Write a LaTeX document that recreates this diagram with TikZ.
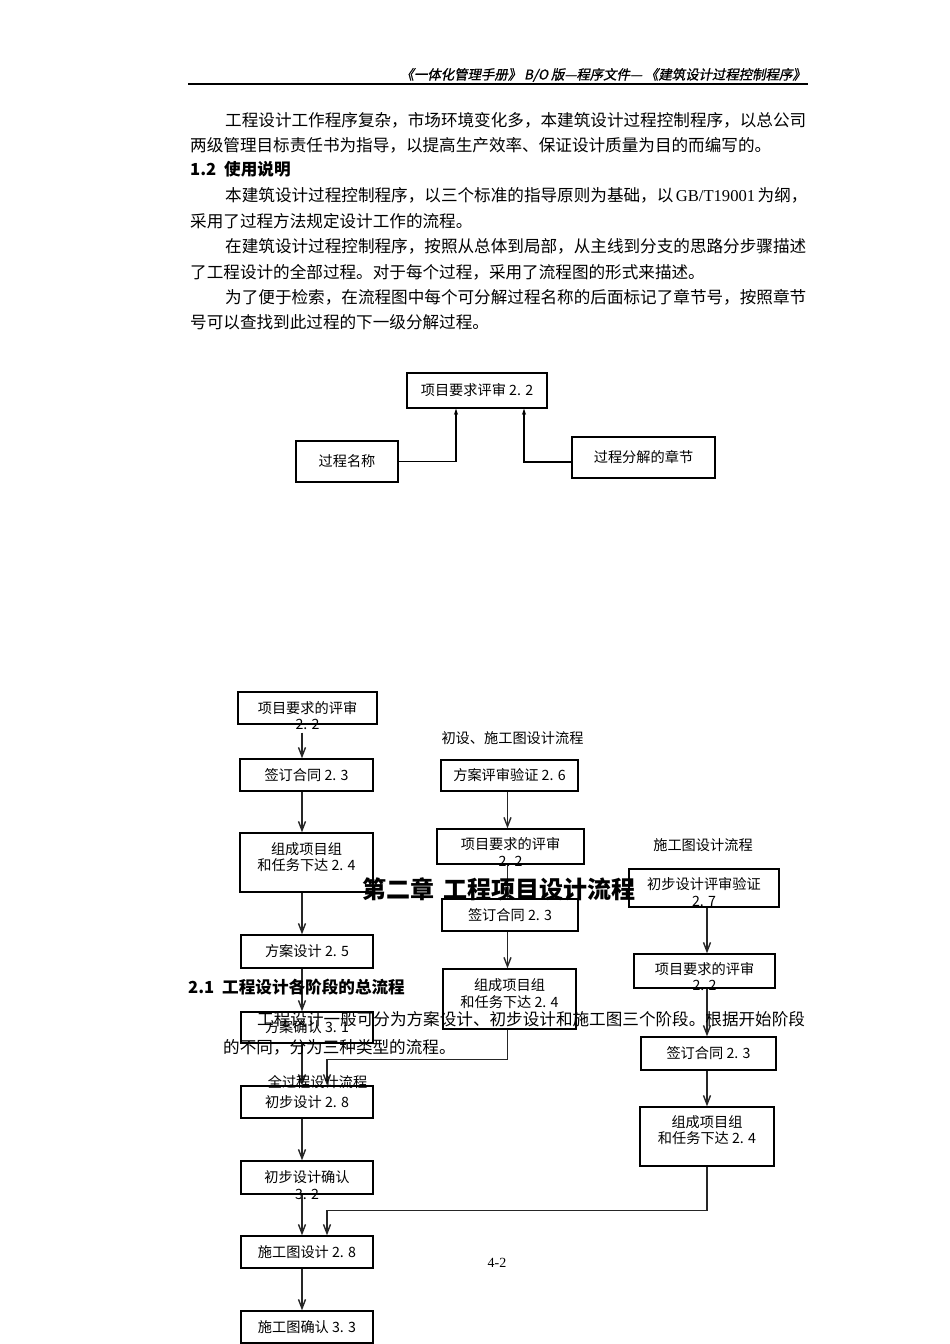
\documentclass[tikz,border=0pt]{standalone}
\usepackage{fontspec}
\setmainfont{Liberation Serif}
\newfontfamily\cjk{Noto Sans CJK SC}
\newfontfamily\hdrfont[FakeSlant=0.2,FakeBold=1]{Noto Sans CJK SC}
\usetikzlibrary{arrows.meta}
\usetikzlibrary{calc}

\begin{document}
\begin{tikzpicture}[x=1pt, y=-1pt,
        body_style/.style={anchor=west, inner sep=0, font=\cjk\fontsize{16.6}{20}\selectfont},
        head_style/.style={anchor=west, inner sep=0, font=\cjk\bfseries\fontsize{16.6}{20}\selectfont},
        box_style/.style={draw=black, line width=1.4pt, inner sep=0, font=\cjk\fontsize{14.2}{16.5}\selectfont},
        text_style/.style={inner sep=0, align=center, font=\cjk\fontsize{14.2}{16.5}\selectfont},
        label_style/.style={inner sep=0, font=\cjk\fontsize{14.2}{16.5}\selectfont},
        edge_style/.style={draw=black!85, line width=1.4pt, -{Straight Barb[length=9pt,width=7pt]}},
        hint_edge_style/.style={draw=black, line width=1.2pt, -{Stealth[length=6pt,width=4pt,inset=1.5pt]}}]

        \fill[white] (0,0) rectangle (950,1344);
        \useasboundingbox (0,0) rectangle (950,1344);

        % page header
        \node [anchor=east, inner sep=0, font=\hdrfont\fontsize{13.4}{15}\selectfont] (hdr) at (806,75) {《一体化管理手册》 B/O 版—程序文件— 《建筑设计过程控制程序》};
        \draw [line width=1.5pt] (188,84) -- (808,84);

        % text above the key
        \node [body_style] (t1) at (225,120) {工程设计工作程序复杂，市场环境变化多，本建筑设计过程控制程序，以总公司};
        \node [body_style] (t2) at (190,145) {两级管理目标责任书为指导，以提高生产效率、保证设计质量为目的而编写的。};
        \node [head_style] (h1) at (190,169) {1.2\hspace{8pt}使用说明};
        \node [body_style] (t3) at (225,195) {\makebox[581pt][s]{本建筑设计过程控制程序，以三个标准的指导原则为基础，以 {\rmfamily GB/T19001} 为纲，}};
        \node [body_style] (t4) at (190,221) {采用了过程方法规定设计工作的流程。};
        \node [body_style] (t5) at (225,246) {在建筑设计过程控制程序，按照从总体到局部，从主线到分支的思路分步骤描述};
        \node [body_style] (t6) at (190,272) {了工程设计的全部过程。对于每个过程，采用了流程图的形式来描述。};
        \node [body_style] (t7) at (225,297) {为了便于检索，在流程图中每个可分解过程名称的后面标记了章节号，按照章节};
        \node [body_style] (t8) at (190,322) {号可以查找到此过程的下一级分解过程。};

        % key
        \node [box_style, minimum width=140pt, minimum height=35pt] (req) at (477,390.5) {项目要求评审 2. 2};
        \node [box_style, minimum width=102pt, minimum height=41pt] (pname) at (347,461.5) {过程名称};
        \node [box_style, minimum width=143pt, minimum height=41pt] (pchap) at (643.5,457.5) {过程分解的章节};
        \draw [hint_edge_style] (pname.east) -| ([xshift=-21pt]req.south);
        \draw [hint_edge_style] ([yshift=-4.5pt]pchap.west) -| ([xshift=47pt]req.south);

        % column lines
        \coordinate (lx) at (302,0);
        \coordinate (mx) at (507.5,0);
        \coordinate (rx) at (707,0);

        % full process
        \node [box_style, minimum width=139pt, minimum height=32pt] (a1) at (307.5,708) {};
        \node [text_style] (a1t) at (307.5,715.5) {项目要求的评审\\2. 2};
        \node [box_style, minimum width=133pt, minimum height=32pt] (a2) at (306.5,775) {签订合同 2. 3};
        \node [box_style, minimum width=133pt, minimum height=59pt] (a3) at (306.5,862.5) {};
        \node [text_style] (a3t) at (306.5,857) {组成项目组\\和任务下达 2. 4};
        \node [box_style, minimum width=132pt, minimum height=33pt] (a4) at (307,951.5) {方案设计 2. 5};
        \node [box_style, minimum width=132pt, minimum height=31pt] (a5) at (307,1027.5) {方案确认 3. 1};
        \node [box_style, minimum width=132pt, minimum height=32pt] (a6) at (307,1102) {初步设计 2. 8};
        \node [box_style, minimum width=132pt, minimum height=33pt] (a7) at (307,1177.5) {};
        \node [text_style] (a7t) at (307,1185) {初步设计确认\\3. 2};
        \node [box_style, minimum width=132pt, minimum height=32pt] (a8) at (307,1252) {施工图设计 2. 8};
        \node [box_style, minimum width=132pt, minimum height=32pt] (a9) at (307,1327) {施工图确认 3. 3};
        \draw [edge_style] ($(a1.south -| lx)+(0,8)$) -- (a2.north -| lx);
        \draw [edge_style] (a2.south -| lx) -- (a3.north -| lx);
        \draw [edge_style] (a3.south -| lx) -- (a4.north -| lx);
        \draw [edge_style] (a4.south -| lx) -- (a5.north -| lx);
        \draw [edge_style] (a5.south -| lx) -- (a6.north -| lx);
        \draw [edge_style] (a6.south -| lx) -- (a7.north -| lx);
        \draw [edge_style] (a7.south -| lx) -- (a8.north -| lx);
        \draw [edge_style] (a8.south -| lx) -- (a9.north -| lx);

        % preliminary and construction drawings
        \node [label_style] (mlab) at (512.5,738) {初设、施工图设计流程};
        \node [box_style, minimum width=137pt, minimum height=31pt] (b1) at (509.5,775.5) {方案评审验证 2. 6};
        \node [box_style, minimum width=147pt, minimum height=35pt] (b2) at (510.5,846.5) {};
        \node [text_style] (b2t) at (510.5,852) {项目要求的评审\\2. 2};
        \node [box_style, minimum width=136pt, minimum height=32pt] (b3) at (510,915) {签订合同 2. 3};
        \node [box_style, minimum width=133pt, minimum height=60pt] (b4) at (509.5,999) {};
        \node [text_style] (b4t) at (509.5,993.5) {组成项目组\\和任务下达 2. 4};
        \draw [edge_style] (b1.south -| mx) -- (b2.north -| mx);
        \draw [edge_style] (b2.south -| mx) -- (b3.north -| mx);
        \draw [edge_style] (b3.south -| mx) -- (b4.north -| mx);
        \draw [edge_style] (b4.south -| mx) |- ($(a6.north)+(20,-26)$) -- ($(a6.north)+(20,0)$);

        % construction drawings only
        \node [label_style] (rlab) at (703,845) {施工图设计流程};
        \node [box_style, minimum width=150pt, minimum height=38pt] (c1) at (704,888) {};
        \node [text_style] (c1t) at (704,892) {初步设计评审验证\\2. 7};
        \node [box_style, minimum width=141pt, minimum height=34pt] (c2) at (704.5,971) {};
        \node [text_style] (c2t) at (704.5,976.5) {项目要求的评审\\2. 2};
        \node [box_style, minimum width=135pt, minimum height=33pt] (c3) at (708.5,1053.5) {签订合同 2. 3};
        \node [box_style, minimum width=134pt, minimum height=59pt] (c4) at (707,1136.5) {};
        \node [text_style] (c4t) at (707,1130) {组成项目组\\和任务下达 2. 4};
        \draw [edge_style] (c1.south -| rx) -- (c2.north -| rx);
        \draw [edge_style] (c2.south -| rx) -- (c3.north -| rx);
        \draw [edge_style] (c3.south -| rx) -- (c4.north -| rx);
        \draw [edge_style] (c4.south -| rx) |- ($(a8.north)+(20,-25)$) -- ($(a8.north)+(20,0)$);

        \node [label_style] (alab) at (317.5,1082) {全过程设计流程};

        % texts laid over the chart
        \node [inner sep=0, font=\cjk\bfseries\fontsize{24}{28}\selectfont] (title) at (499,889) {第二章\hspace{10pt}工程项目设计流程};
        \node [head_style] (h2) at (188,987) {2.1\hspace{8pt}工程设计各阶段的总流程};
        \node [body_style] (t9) at (257,1019) {工程设计一般可分为方案设计、初步设计和施工图三个阶段。根据开始阶段};
        \node [body_style] (t10) at (223,1047) {的不同，分为三种类型的流程。};
        \node [inner sep=0, font=\fontsize{14}{16}\selectfont] (pgno) at (497,1263) {4-2};
\end{tikzpicture}
\end{document}
